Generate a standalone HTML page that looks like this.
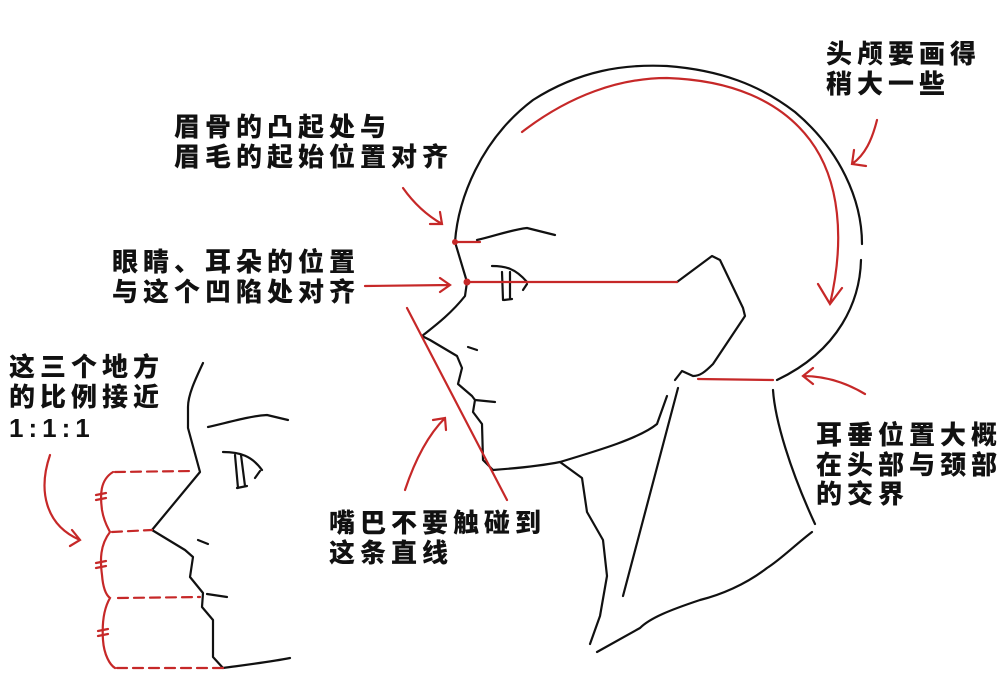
<!DOCTYPE html>
<html><head><meta charset="utf-8"><style>
html,body{margin:0;padding:0;background:#fff}
svg{display:block}
text{font-family:"Liberation Sans","Noto Sans CJK SC",sans-serif;font-weight:900;font-size:26px;letter-spacing:5px;fill:#111}
</style></head><body>
<svg width="1000" height="690" viewBox="0 0 1000 690" xmlns="http://www.w3.org/2000/svg">
<g fill="none" stroke="#111" stroke-width="2.2" stroke-linecap="round" stroke-linejoin="round">
<path d="M455,242 C458,200 480,140 533,100 C580,70 625,64 667,66 C720,70 760,85 795,112 C840,150 862,200 862,244 M861,260 C860,300 840,350 777,380"/>
<path d="M455,242 L467,282 L465,296 C450,315 432,328 422,336 L430,340 L457,356 L462,368 L458,384 L472,396 L475,400 L473,412 L482,424 L483,460 L493,470 C520,468 540,466 560,462 C600,450 640,438 657,424 L667,396"/>
<path d="M475,400 L495,402"/><path d="M468,347 L477,350"/>
<path d="M477,240 C495,236 510,230 527,228 L555,235"/>
<path d="M492,266 C505,266 515,268 527,282"/><path d="M523,290 L527,284"/>
<path d="M502,272 L503,300 M510,272 L510,298 M504,300 L512,299"/>
<path d="M677,282 L712,256 L720,260 L743,308 L745,316 L713,364 C705,372 700,376 693,376 L682,371 L675,380"/>
<path d="M678,388 L623,596"/>
<path d="M560,462 L582,478 L587,512 L603,540 L607,576 L600,616 L590,644"/>
<path d="M773,390 C775,420 790,470 815,524"/>
<path d="M812,532 C795,545 780,560 767,568 C745,585 720,595 700,600 C670,610 650,618 640,628 L597,652"/>
<path d="M203,363 C195,380 188,395 188,407 L188,428 L200,472 L152,530 L185,550 L193,557 L190,577 L203,593 L202,607 L213,620 L213,657 L223,668 C245,665 270,662 290,658"/>
<path d="M207,594 L227,597"/><path d="M198,540 L208,544"/>
<path d="M208,427 C230,422 250,416 267,415 L288,420"/>
<path d="M223,452 C240,452 252,456 262,470"/><path d="M255,478 L260,471"/>
<path d="M235,455 L238,488 M241,455 L245,486 M237,488 L247,486"/>
</g>
<g fill="none" stroke="#c62828" stroke-width="2.2" stroke-linecap="round">
<path d="M455,242 L480,242"/>
<path d="M467,282 L677,282"/>
<path d="M698,379 L773,380"/>
<path d="M407,308 L507,500"/>
<path d="M522,132 C570,95 620,78 667,78 C730,80 780,100 810,140 C840,180 845,240 830,304 M818,284 L830,304 L842,288"/>
<path d="M877,120 C872,140 865,155 852,164 M854,150 L852,164 L866,166"/>
<path d="M403,188 C415,205 428,216 442,224 M430,224 L442,224 L440,212"/>
<path d="M365,286 L450,285 M440,278 L450,285 L440,292"/>
<path d="M405,490 C415,460 428,435 445,418 M433,420 L445,418 L446,430"/>
<path d="M865,394 C845,382 825,376 803,376 M813,368 L803,376 L813,384"/>
<path d="M50,455 C38,490 45,525 80,540 M72,530 L80,540 L70,546"/>
<path d="M113,472 C100,480 100,495 102,510 C104,522 108,528 110,532 C100,545 100,560 102,575 C103,588 106,595 110,598 C103,610 102,625 103,640 C104,655 110,665 115,668"/>
<path d="M96,495 L106,493 M96,500 L106,498 M96,563 L106,561 M96,568 L106,566 M98,631 L108,629 M98,636 L108,634"/>
<g stroke-dasharray="10,6"><path d="M115,472 L192,471"/><path d="M112,532 L152,530"/><path d="M118,598 L200,597"/><path d="M117,668 L223,668"/></g>
</g>
<circle cx="455" cy="242" r="3" fill="#c62828"/>
<circle cx="467" cy="282" r="3.5" fill="#c62828"/>
<text x="826" y="63">头颅要画得</text>
<text x="826" y="93">稍大一些</text>
<text x="174" y="136">眉骨的凸起处与</text>
<text x="174" y="166">眉毛的起始位置对齐</text>
<text x="112" y="271">眼睛、耳朵的位置</text>
<text x="112" y="301">与这个凹陷处对齐</text>
<text x="9" y="376">这三个地方</text>
<text x="9" y="406">的比例接近</text>
<text x="9" y="437">1:1:1</text>
<text x="329" y="532">嘴巴不要触碰到</text>
<text x="329" y="562">这条直线</text>
<text x="816" y="444">耳垂位置大概</text>
<text x="816" y="474">在头部与颈部</text>
<text x="816" y="503">的交界</text>
</svg>
</body></html>
